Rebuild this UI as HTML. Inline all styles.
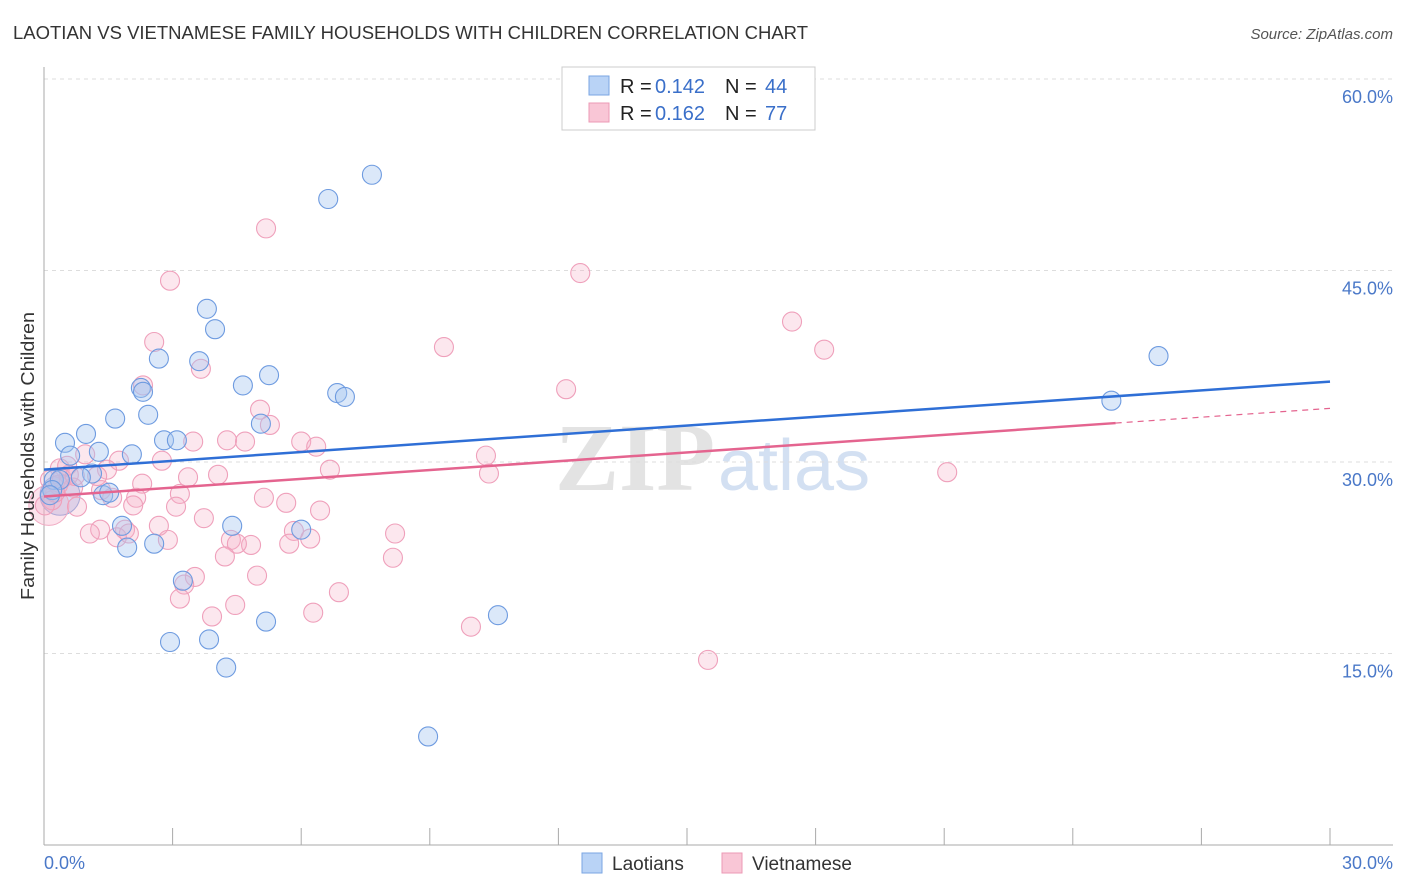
<!DOCTYPE html>
<html><head><meta charset="utf-8"><style>
body{margin:0;background:#fff;font-family:"Liberation Sans",sans-serif}
svg{display:block}
</style></head><body>
<svg id="chart" width="1406" height="892">
<text x="13" y="39" font-size="18" fill="#333" textLength="795" lengthAdjust="spacingAndGlyphs">LAOTIAN VS VIETNAMESE FAMILY HOUSEHOLDS WITH CHILDREN CORRELATION CHART</text>
<text x="1393" y="39" font-size="15" fill="#555" font-style="italic" text-anchor="end">Source: ZipAtlas.com</text>
<g><text x="555" y="490" font-size="96" fill="#ddd" font-family="Liberation Serif,serif" font-weight="bold" opacity="0.8">ZIP</text><text x="718" y="490" font-size="72" fill="#c9d9f0" opacity="0.8">atlas</text></g>
<g id="grid"></g><g id="axes"></g><g id="pts"></g><g id="trend"></g>
<text x="34" y="456" font-size="18" fill="#333" text-anchor="middle" textLength="288" lengthAdjust="spacingAndGlyphs" transform="rotate(-90 34 456)">Family Households with Children</text>
<g>
<rect x="562" y="67" width="253" height="63" fill="#fff" stroke="#ccc"/>
<rect x="589" y="76" width="20" height="19" fill="#b9d3f6" stroke="#7aa6e3"/>
<rect x="589" y="103" width="20" height="19" fill="#f9c6d6" stroke="#ec9ab5"/>
<text x="620" y="93" font-size="20" fill="#222">R =</text>
<text x="655" y="93" font-size="20" fill="#3a6fc9">0.142</text>
<text x="725" y="93" font-size="20" fill="#222">N =</text>
<text x="765" y="93" font-size="20" fill="#3a6fc9">44</text>
<text x="620" y="120" font-size="20" fill="#222">R =</text>
<text x="655" y="120" font-size="20" fill="#3a6fc9">0.162</text>
<text x="725" y="120" font-size="20" fill="#222">N =</text>
<text x="765" y="120" font-size="20" fill="#3a6fc9">77</text>
</g>
<g>
<rect x="582" y="853" width="20" height="20" fill="#b9d3f6" stroke="#7aa6e3"/>
<text x="612" y="870" font-size="19" fill="#333">Laotians</text>
<rect x="722" y="853" width="20" height="20" fill="#f9c6d6" stroke="#ec9ab5"/>
<text x="752" y="870" font-size="19" fill="#333">Vietnamese</text>
</g>
</svg>
<script>
const blueX=[7.65,6.63,3.80,3.99,2.68,3.62,26.0,2.26,2.31,4.64,5.25,6.84,7.02,24.9,2.43,1.66,5.06,0.98,0.49,2.80,3.10,2.05,1.28,0.61,1.12,0.86,0.23,0.37,1.38,1.52,0.19,1.82,4.39,6.00,2.57,1.94,3.24,5.18,10.59,2.94,3.85,4.25,8.96,0.14];
const blueY=[52.5,50.6,42.0,40.4,38.1,37.9,38.3,35.8,35.5,36.0,36.8,35.4,35.1,34.8,33.7,33.4,33.0,32.2,31.5,31.7,31.7,30.6,30.8,30.5,29.1,28.8,28.6,28.6,27.4,27.6,27.8,25.0,25.0,24.7,23.6,23.3,20.7,17.5,18.0,15.9,16.1,13.9,8.5,27.4];
const pinkX=[5.18,2.94,12.51,17.45,18.20,9.33,2.57,3.66,2.31,12.18,5.04,5.27,3.48,4.27,4.69,6.00,6.35,0.96,2.75,1.75,10.31,0.37,1.47,0.58,6.67,4.06,3.36,21.07,10.38,2.29,0.33,0.68,1.33,3.17,5.13,2.15,0.77,2.08,5.65,3.08,6.44,3.73,1.89,2.68,1.31,1.07,8.19,5.83,1.70,1.98,2.89,4.36,4.83,4.50,5.72,6.21,4.22,8.14,3.52,4.97,3.27,3.17,6.88,4.46,3.92,6.28,9.96,15.49,0.19,0.02,0.14,0.42,0.72,0.54,1.24,0.26,1.59];
const pinkY=[48.3,44.2,44.8,41.0,38.8,39.0,39.4,37.3,36.0,35.7,34.1,32.9,31.6,31.7,31.6,31.6,31.2,30.6,30.1,30.1,30.5,29.5,29.4,29.0,29.4,29.0,28.8,29.2,29.1,28.3,28.2,28.0,27.8,27.5,27.2,27.2,26.5,26.6,26.8,26.5,26.2,25.6,24.7,25.0,24.7,24.4,24.4,24.6,24.1,24.4,23.9,23.9,23.5,23.6,23.6,24.0,22.6,22.5,21.0,21.1,20.4,19.3,19.8,18.8,17.9,18.2,17.1,14.5,27.0,26.6,28.6,28.7,28.9,29.7,28.9,27.6,27.2];
const blueTrend=[29.4,36.3];
const pinkTrend=[27.3,34.2];
const yTicks=[15,30,45,60];
const xTickVals=[0,3,6,9,12,15,18,21,24,27,30];
const NS="http://www.w3.org/2000/svg";
const X=v=>44+v*(1330-44)/30;
const Y=v=>845-v*(845-79)/60;
function mk(p,t,a){const e=document.createElementNS(NS,t);for(const k in a)e.setAttribute(k,a[k]);p.appendChild(e);return e;}
const grid=document.getElementById('grid'),axes=document.getElementById('axes'),pts=document.getElementById('pts'),tr=document.getElementById('trend');
yTicks.forEach(t=>{
 const l=mk(grid,'line',{x1:44,x2:1393,y1:Y(t),y2:Y(t),stroke:'#ddd','stroke-dasharray':'4,4'});
 
 
 const tx=mk(grid,'text',{x:1393,y:Y(t)+24,'font-size':18,fill:'#4a78c8','text-anchor':'end'});
 tx.textContent=t.toFixed(1)+'%';
 
 
});
const ax=mk(axes,'line',{x1:44,x2:44,y1:67,y2:845,stroke:'#aaa'});


const bx=mk(axes,'line',{x1:44,x2:1393,y1:845,y2:845,stroke:'#aaa'});


xTickVals.forEach(t=>{
 const l=mk(axes,'line',{x1:X(t),x2:X(t),y1:828,y2:845,stroke:'#aaa'});
 
 
});
[[0,'start',44],[30,'end',1393]].forEach(([v,a,x])=>{
 const t=mk(axes,'text',{x:x,y:869,'font-size':18,fill:'#4a78c8','text-anchor':a});
 t.textContent=v.toFixed(1)+'%';
 
 
});
const bb=mk(pts,'circle',{cx:X(blueX[43])+10,cy:Y(blueY[43]),r:20,fill:'rgba(150,175,230,0.4)',stroke:'#8aa6dd'});


const pb=mk(pts,'circle',{cx:X(pinkX[69])+4,cy:Y(pinkY[69]),r:20,fill:'rgba(245,175,200,0.35)',stroke:'#f0aac2'});


pinkX.forEach((v,i)=>{
 const c=mk(pts,'circle',{cx:X(v),cy:Y(pinkY[i]),r:9.5,fill:'rgba(246,175,200,0.3)',stroke:'#efa0bb','stroke-width':1.1});
 
 
});
blueX.forEach((v,i)=>{
 const c=mk(pts,'circle',{cx:X(v),cy:Y(blueY[i]),r:9.5,fill:'rgba(165,198,240,0.4)',stroke:'#6e9be0','stroke-width':1.1});
 
 
});
const bl=mk(tr,'line',{x1:X(0),y1:Y(blueTrend[0]),x2:X(30),y2:Y(blueTrend[1]),stroke:'#2f6fd6','stroke-width':2.5});


const pm=pinkTrend[0]+(pinkTrend[1]-pinkTrend[0])*25/30;
const pl=mk(tr,'line',{x1:X(0),y1:Y(pinkTrend[0]),x2:X(25),y2:Y(pm),stroke:'#e4648f','stroke-width':2.5});


const pd=mk(tr,'line',{x1:X(25),y1:Y(pm),x2:X(30),y2:Y(pinkTrend[1]),stroke:'#e4648f','stroke-width':1.2,'stroke-dasharray':'6,5'});


</script>
</body></html>
